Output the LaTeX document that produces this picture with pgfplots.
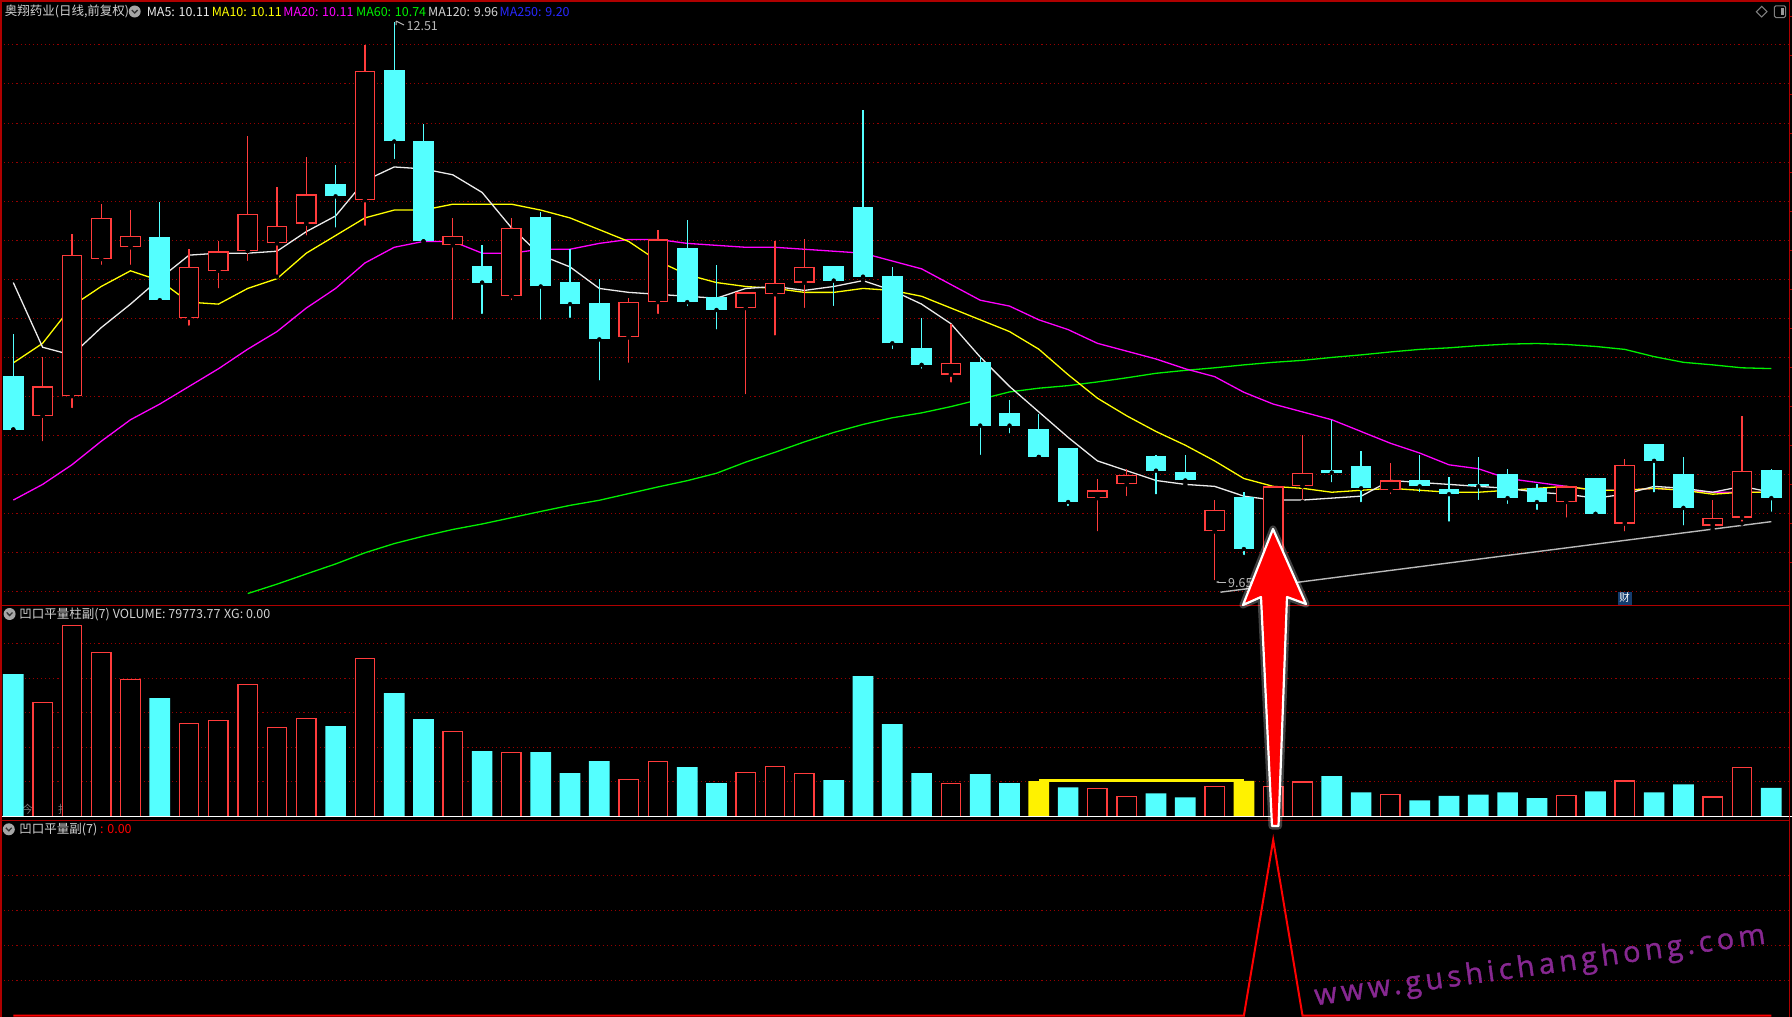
\documentclass[border=0pt]{standalone}
\usepackage{pgfplots}
\pgfplotsset{compat=1.18}
\usepackage{pgfplotstable}
\usetikzlibrary{arrows.meta}
\usepackage{fontspec}
\setmainfont{Liberation Sans}
\newfontfamily\cjk{Noto Sans CJK SC}
\newfontfamily\wmfont{Open Sans}[LetterSpace=15, FakeBold=1.2]
\definecolor{cand}{RGB}{84,255,255}
\definecolor{redc}{RGB}{255,60,60}
\definecolor{gridr}{RGB}{150,0,0}
\definecolor{bord}{RGB}{175,0,0}
\definecolor{ma5}{RGB}{235,235,235}
\definecolor{ma10}{RGB}{255,255,0}
\definecolor{ma20}{RGB}{255,0,255}
\definecolor{ma60}{RGB}{0,240,0}
\definecolor{trend}{RGB}{185,185,185}
\definecolor{hdr}{RGB}{210,210,210}
\definecolor{wm}{RGB}{135,40,145}
\definecolor{badge}{RGB}{20,60,110}
\definecolor{mablue}{RGB}{40,40,255}

% candles with close >= open (red, hollow)
\pgfplotstableread{
i o h l c
1 10.50 10.80 10.36 10.65
2 10.60 11.43 10.53 11.32
3 11.30 11.58 11.26 11.51
4 11.36 11.55 11.26 11.42
6 11.00 11.35 10.95 11.26
7 11.24 11.39 11.14 11.34
8 11.34 11.93 11.28 11.53
9 11.38 11.67 11.21 11.47
10 11.48 11.82 11.41 11.63
12 11.60 12.39 11.46 12.26
15 11.37 11.51 10.98 11.42
17 11.11 11.51 11.08 11.46
21 10.90 11.10 10.76 11.08
22 11.08 11.45 11.01 11.40
25 11.05 11.13 10.60 11.13
26 11.12 11.39 10.90 11.18
27 11.18 11.40 11.04 11.26
32 10.71 10.97 10.66 10.77
37 10.08 10.18 9.90 10.12
38 10.15 10.23 10.08 10.20
41 9.91 10.07 9.65 10.02
43 9.80 10.14 9.77 10.14
44 10.14 10.40 10.06 10.21
47 10.12 10.26 10.09 10.17
53 10.06 10.14 9.97 10.14
55 9.95 10.28 9.90 10.25
58 9.94 10.07 9.92 9.98
59 9.98 10.50 9.95 10.22
}\redcandles

% candles with close < open (cyan, filled)
\pgfplotstableread{
i o h l c
0 10.70 10.92 10.43 10.43
5 11.41 11.59 11.08 11.09
11 11.68 11.78 11.45 11.62
13 12.26 12.51 11.80 11.90
14 11.90 11.99 11.39 11.39
16 11.26 11.37 11.01 11.18
18 11.51 11.54 10.98 11.16
19 11.18 11.35 10.99 11.07
20 11.07 11.20 10.67 10.89
23 11.35 11.50 11.05 11.08
24 11.10 11.27 10.93 11.04
28 11.26 11.26 11.05 11.19
29 11.56 12.06 11.19 11.21
30 11.21 11.26 10.83 10.87
31 10.84 11.00 10.73 10.76
33 10.77 10.80 10.29 10.45
34 10.51 10.58 10.40 10.45
35 10.43 10.51 10.29 10.29
36 10.33 10.33 10.03 10.06
39 10.29 10.30 10.09 10.22
40 10.21 10.30 10.15 10.17
42 10.08 10.11 9.78 9.82
45 10.22 10.48 10.15 10.21
46 10.24 10.32 10.05 10.13
48 10.17 10.30 10.10 10.14
49 10.12 10.19 9.95 10.10
50 10.15 10.29 10.06 10.14
51 10.20 10.23 10.04 10.08
52 10.13 10.15 10.01 10.06
54 10.18 10.18 9.98 10.00
56 10.35 10.35 10.10 10.27
57 10.20 10.29 9.93 10.03
60 10.22 10.23 10.00 10.08
}\cyancandles

\pgfplotstableread{
i ma5 ma10 ma20
0 11.18 10.77 10.07
1 10.85 10.87 10.15
2 10.81 11.06 10.25
3 10.95 11.16 10.37
4 11.07 11.24 10.48
5 11.20 11.19 10.56
6 11.32 11.08 10.65
7 11.33 11.07 10.74
8 11.33 11.15 10.84
9 11.34 11.20 10.93
10 11.44 11.33 11.05
11 11.52 11.42 11.15
12 11.70 11.51 11.28
13 11.77 11.55 11.36
14 11.76 11.55 11.39
15 11.73 11.58 11.39
16 11.64 11.58 11.33
17 11.46 11.58 11.33
18 11.32 11.55 11.35
19 11.26 11.51 11.35
20 11.15 11.45 11.38
21 11.13 11.39 11.40
22 11.12 11.29 11.40
23 11.11 11.22 11.38
24 11.10 11.18 11.37
25 11.15 11.16 11.36
26 11.16 11.15 11.36
27 11.14 11.13 11.35
28 11.16 11.13 11.34
29 11.19 11.15 11.33
30 11.14 11.14 11.29
31 11.07 11.11 11.25
32 10.97 11.05 11.17
33 10.80 10.99 11.09
34 10.65 10.93 11.06
35 10.52 10.84 10.99
36 10.39 10.71 10.94
37 10.27 10.59 10.87
38 10.22 10.50 10.83
39 10.17 10.42 10.79
40 10.15 10.35 10.74
41 10.14 10.27 10.70
42 10.09 10.18 10.62
43 10.07 10.14 10.56
44 10.07 10.13 10.52
45 10.08 10.11 10.48
46 10.09 10.12 10.42
47 10.17 10.13 10.36
48 10.16 10.12 10.31
49 10.15 10.11 10.25
50 10.14 10.11 10.23
51 10.13 10.12 10.18
52 10.11 10.13 10.16
53 10.10 10.14 10.14
54 10.08 10.12 10.12
55 10.10 10.12 10.12
56 10.14 10.13 10.13
57 10.13 10.12 10.12
58 10.11 10.10 10.11
59 10.14 10.11 10.11
60 10.11 10.11 10.11
}\malines

\pgfplotstableread{
i ma60
8 9.593
9 9.641
10 9.693
11 9.744
12 9.801
13 9.848
14 9.886
15 9.920
16 9.948
17 9.980
18 10.012
19 10.043
20 10.069
21 10.103
22 10.137
23 10.169
24 10.207
25 10.264
26 10.314
27 10.367
28 10.415
29 10.456
30 10.490
31 10.515
32 10.547
33 10.584
34 10.622
35 10.641
36 10.654
37 10.673
38 10.694
39 10.717
40 10.732
41 10.745
42 10.760
43 10.773
44 10.783
45 10.798
46 10.811
47 10.826
48 10.839
49 10.847
50 10.858
51 10.866
52 10.869
53 10.864
54 10.854
55 10.839
56 10.802
57 10.773
58 10.760
59 10.745
60 10.741
}\maslow

\pgfplotstableread{
i v
0 397500
5 330300
11 251900
13 344300
14 271500
16 181900
18 179100
19 120400
20 153900
23 137200
24 92400
28 100800
29 391900
30 257500
31 120400
33 117600
34 92400
36 81200
39 64400
40 53200
45 112000
46 67200
48 44800
49 57400
50 60500
51 67200
52 50900
54 70000
56 67200
57 89600
60 79774
}\volcyan

\pgfplotstableread{
i v
1 318200
2 533800
3 458200
4 382600
6 259500
7 267900
8 368600
9 248300
10 273500
12 441400
15 237100
17 178300
21 102700
22 153100
25 122300
26 139100
27 119500
32 91500
37 77500
38 55100
41 82900
43 82900
44 95700
47 60500
53 57400
55 98800
58 54300
59 137200
}\volred

\pgfplotstableread{
i v
35 98000
42 98800
}\volyellow

\pgfplotsset{panel/.style={
  scale only axis, width=1792bp, xmin=-0.454, xmax=60.706,
  axis line style={draw=none}, tick style={draw=none},
  xtick=\empty, ytick=\empty,
  anchor=north west, clip=true,
}}
\tikzset{gridl/.style={gridr, line width=0.9bp, dash pattern=on 1.1bp off 3bp}}

\begin{document}
\begin{tikzpicture}
\path[use as bounding box] (0,0) rectangle (1792bp,-1017bp);
\fill[black] (0,0) rectangle (1792bp,-1017bp);

% faint text behind the volume bars
\begin{scope}[x=1bp, y=-1bp]
\node[anchor=west, inner sep=0, text=black!55, font=\cjk\fontsize{11bp}{12bp}\selectfont] at (22,809) {今日\hspace{14bp}指数};
\end{scope}

% ---------- price panel ----------
\begin{axis}[panel, at={(0bp,0bp)}, height=605.5bp, ymin=9.532, ymax=12.622]
\pgfplotsinvokeforeach{9.602,9.801,10.001,10.200,10.400,10.599,10.798,10.998,11.197,11.396,11.596,11.795,11.994,12.194,12.393}{
  \draw[gridl] (axis cs:-0.454,#1) -- (axis cs:60.706,#1);}
% MA lines
\addplot[ma60, line width=1.3bp, mark=none] table[x=i, y=ma60] {\maslow};
\addplot[ma20, line width=1.3bp, mark=none] table[x=i, y=ma20] {\malines};
\addplot[ma10, line width=1.3bp, mark=none] table[x=i, y=ma10] {\malines};
\addplot[ma5, line width=1.3bp, mark=none] table[x=i, y=ma5] {\malines};
\addplot[trend, line width=1.4bp, mark=none] coordinates {(41.2,9.60) (60,9.96)};
% red candles: wick, outer body, inner black
\addplot[only marks, mark=none, error bars/.cd, y dir=plus, y explicit, error mark=none,
  error bar style={draw=redc, line width=1.3bp, solid}]
  table[x=i, y=l, y error plus expr=\thisrow{h}-\thisrow{l}] {\redcandles};
\addplot[only marks, mark=none, error bars/.cd, y dir=plus, y explicit, error mark=none,
  error bar style={draw=redc, line width=20.7bp, solid}]
  table[x=i, y=o, y error plus expr=\thisrow{c}-\thisrow{o}] {\redcandles};
\addplot[only marks, mark=none, error bars/.cd, y dir=plus, y explicit, error mark=none,
  error bar style={draw=black, line width=18.1bp, solid}]
  table[x=i, y expr=\thisrow{o}+0.0066, y error plus expr=\thisrow{c}-\thisrow{o}-0.0132] {\redcandles};
% cyan candles
\addplot[only marks, mark=none, error bars/.cd, y dir=plus, y explicit, error mark=none,
  error bar style={draw=cand, line width=1.3bp, solid}]
  table[x=i, y=l, y error plus expr=\thisrow{h}-\thisrow{l}] {\cyancandles};
\addplot[only marks, mark=none, error bars/.cd, y dir=plus, y explicit, error mark=none,
  error bar style={draw=cand, line width=20.7bp, solid}]
  table[x=i, y=c, y error plus expr=\thisrow{o}-\thisrow{c}+0.004] {\cyancandles};
\end{axis}

% ---------- volume panel ----------
\begin{axis}[panel, at={(0bp,-605.5bp)}, height=214.8bp, ymin=-11196, ymax=589190]
\pgfplotsinvokeforeach{96500,193000,289500,386000,482500}{
  \draw[gridl] (axis cs:-0.454,#1) -- (axis cs:60.706,#1);}
\addplot[ybar, bar width=20.7bp, bar shift=0pt, fill=cand, draw=none] table[x=i, y=v] {\volcyan};
\addplot[ybar, bar width=19.4bp, bar shift=0pt, fill=black, draw=redc, line width=1.3bp] table[x=i, y=v] {\volred};
\addplot[ybar, bar width=20.7bp, bar shift=0pt, fill=yellow, draw=none] table[x=i, y=v] {\volyellow};
\addplot[yellow, line width=3bp, mark=none] coordinates {(35,99900) (42,99900)};
\addplot[white, line width=1.5bp, mark=none] coordinates {(-0.454,0) (60.706,0)};
\end{axis}

% ---------- signal panel ----------
\begin{axis}[panel, at={(0bp,-820.3bp)}, height=196.7bp, ymin=-0.0085, ymax=1.1123]
\pgfplotsinvokeforeach{0.2,0.4,0.6,0.8}{
  \draw[gridl] (axis cs:-0.454,#1) -- (axis cs:60.706,#1);}
\addplot[red, line width=2bp, mark=none] coordinates {
(0,0) (1,0) (2,0) (3,0) (4,0) (5,0) (6,0) (7,0) (8,0) (9,0) (10,0)
(11,0) (12,0) (13,0) (14,0) (15,0) (16,0) (17,0) (18,0) (19,0) (20,0)
(21,0) (22,0) (23,0) (24,0) (25,0) (26,0) (27,0) (28,0) (29,0) (30,0)
(31,0) (32,0) (33,0) (34,0) (35,0) (36,0) (37,0) (38,0) (39,0) (40,0)
(41,0) (42,0) (43,1) (44,0) (45,0) (46,0) (47,0) (48,0) (49,0) (50,0)
(51,0) (52,0) (53,0) (54,0) (55,0) (56,0) (57,0) (58,0) (59,0) (60,0)};
\end{axis}

% ---------- frame, labels, annotations ----------
\begin{scope}[x=1bp, y=-1bp]
\draw[bord, line width=1.5bp] (1,0.8) -- (1789.5,0.8);
\draw[bord, line width=1.5bp] (1,0) -- (1,1017);
\draw[bord, line width=1.5bp] (1789.5,0) -- (1789.5,1017);
\draw[bord, line width=1.5bp] (0,605.5) -- (1789.5,605.5);
\draw[bord, line width=1.5bp] (0,820.3) -- (1789.5,820.3);
\foreach \yy in {16,55,94,133,172,211,250,289,328,367,406,445,484,523,562}
  \draw[bord, line width=1bp] (1789.5,\yy) -- (1792,\yy);

% price header
\node[anchor=west, inner sep=0, text=hdr, font=\cjk\fontsize{12.5bp}{14bp}\selectfont] at (4.6,11.5) {奥翔药业(日线,前复权)};
\fill[gray!70] (134.7,11.5) circle (6bp);
\draw[black!80, line width=1.3bp] (131.8,10) -- (134.7,13) -- (137.6,10);
\node[anchor=west, inner sep=0, text=ma5, font=\cjk\fontsize{12.5bp}{14bp}\selectfont] at (146.6,11.5) {MA5: 10.11};
\node[anchor=west, inner sep=0, text=ma10, font=\cjk\fontsize{12.5bp}{14bp}\selectfont] at (211.6,11.5) {MA10: 10.11};
\node[anchor=west, inner sep=0, text=ma20, font=\cjk\fontsize{12.5bp}{14bp}\selectfont] at (283.2,11.5) {MA20: 10.11};
\node[anchor=west, inner sep=0, text=ma60, font=\cjk\fontsize{12.5bp}{14bp}\selectfont] at (355.9,11.5) {MA60: 10.74};
\node[anchor=west, inner sep=0, text=hdr, font=\cjk\fontsize{12.5bp}{14bp}\selectfont] at (427.9,11.5) {MA120: 9.96};
\node[anchor=west, inner sep=0, text=mablue, font=\cjk\fontsize{12.5bp}{14bp}\selectfont] at (499.4,11.5) {MA250: 9.20};
% top right icons
\draw[gray, line width=1bp] (1756.4,11.7) -- (1761.7,6.4) -- (1767,11.7) -- (1761.7,17) -- cycle;
\draw[gray, line width=1bp, rounded corners=1.5bp] (1774.3,5.8) rectangle (1785.7,17.5);
\fill[gray!80] (1780.5,8.3) rectangle (1783.5,15);

% extreme labels
\draw[trend, line width=1bp] (396,21) -- (396,25) (396,21) -- (404,25);
\node[anchor=west, inner sep=0, text=trend, font=\cjk\fontsize{12.5bp}{14bp}\selectfont] at (406.5,26.5) {12.51};
\draw[trend, line width=1bp, -{Stealth[length=3bp]}] (1226,582) -- (1216,582);
\node[anchor=west, inner sep=0, text=trend, font=\cjk\fontsize{12.5bp}{14bp}\selectfont] at (1228,583) {9.65};
% badge
\fill[badge] (1618,591.5) rectangle (1631.5,604.5);
\node[inner sep=0, text=white, font=\cjk\fontsize{10.5bp}{11bp}\selectfont] at (1624.7,598) {财};

% volume header
\fill[gray!70] (9.6,614) circle (6bp);
\draw[black!80, line width=1.3bp] (6.7,612.5) -- (9.6,615.5) -- (12.5,612.5);
\node[anchor=west, inner sep=0, text=hdr, font=\cjk\fontsize{12.5bp}{14bp}\selectfont] at (19.3,614) {凹口平量柱副(7)};
\node[anchor=west, inner sep=0, text=hdr, font=\cjk\fontsize{12.5bp}{14bp}\selectfont] at (112.7,614) {VOLUME: 79773.77};
\node[anchor=west, inner sep=0, text=hdr, font=\cjk\fontsize{12.5bp}{14bp}\selectfont] at (224,614) {XG: 0.00};

% signal header
\fill[gray!70] (8.8,829.3) circle (6bp);
\draw[black!80, line width=1.3bp] (5.9,827.8) -- (8.8,830.8) -- (11.7,827.8);
\node[anchor=west, inner sep=0, text=hdr, font=\cjk\fontsize{12.5bp}{14bp}\selectfont] at (19.3,829.3) {凹口平量副(7)};
\node[anchor=west, inner sep=0, text=red, font=\cjk\fontsize{12.5bp}{14bp}\selectfont] at (100,829.3) {: 0.00};

% big arrow
\draw[white, opacity=0.25, line width=7bp, line join=round]
  (1273,529) -- (1306,604) -- (1287,597) -- (1278.5,826) -- (1272,826) -- (1261,597) -- (1243,605) -- cycle;
\draw[white, line width=2.2bp, fill=red, line join=round]
  (1273,529) -- (1306,604) -- (1287,597) -- (1278.5,826) -- (1272,826) -- (1261,597) -- (1243,605) -- cycle;

% watermark
\node[rotate=7.8, text=wm, inner sep=0, font=\wmfont\fontsize{29bp}{29bp}\selectfont] at (1540,967) {www.gushichanghong.com};
\end{scope}
\end{tikzpicture}
\end{document}
